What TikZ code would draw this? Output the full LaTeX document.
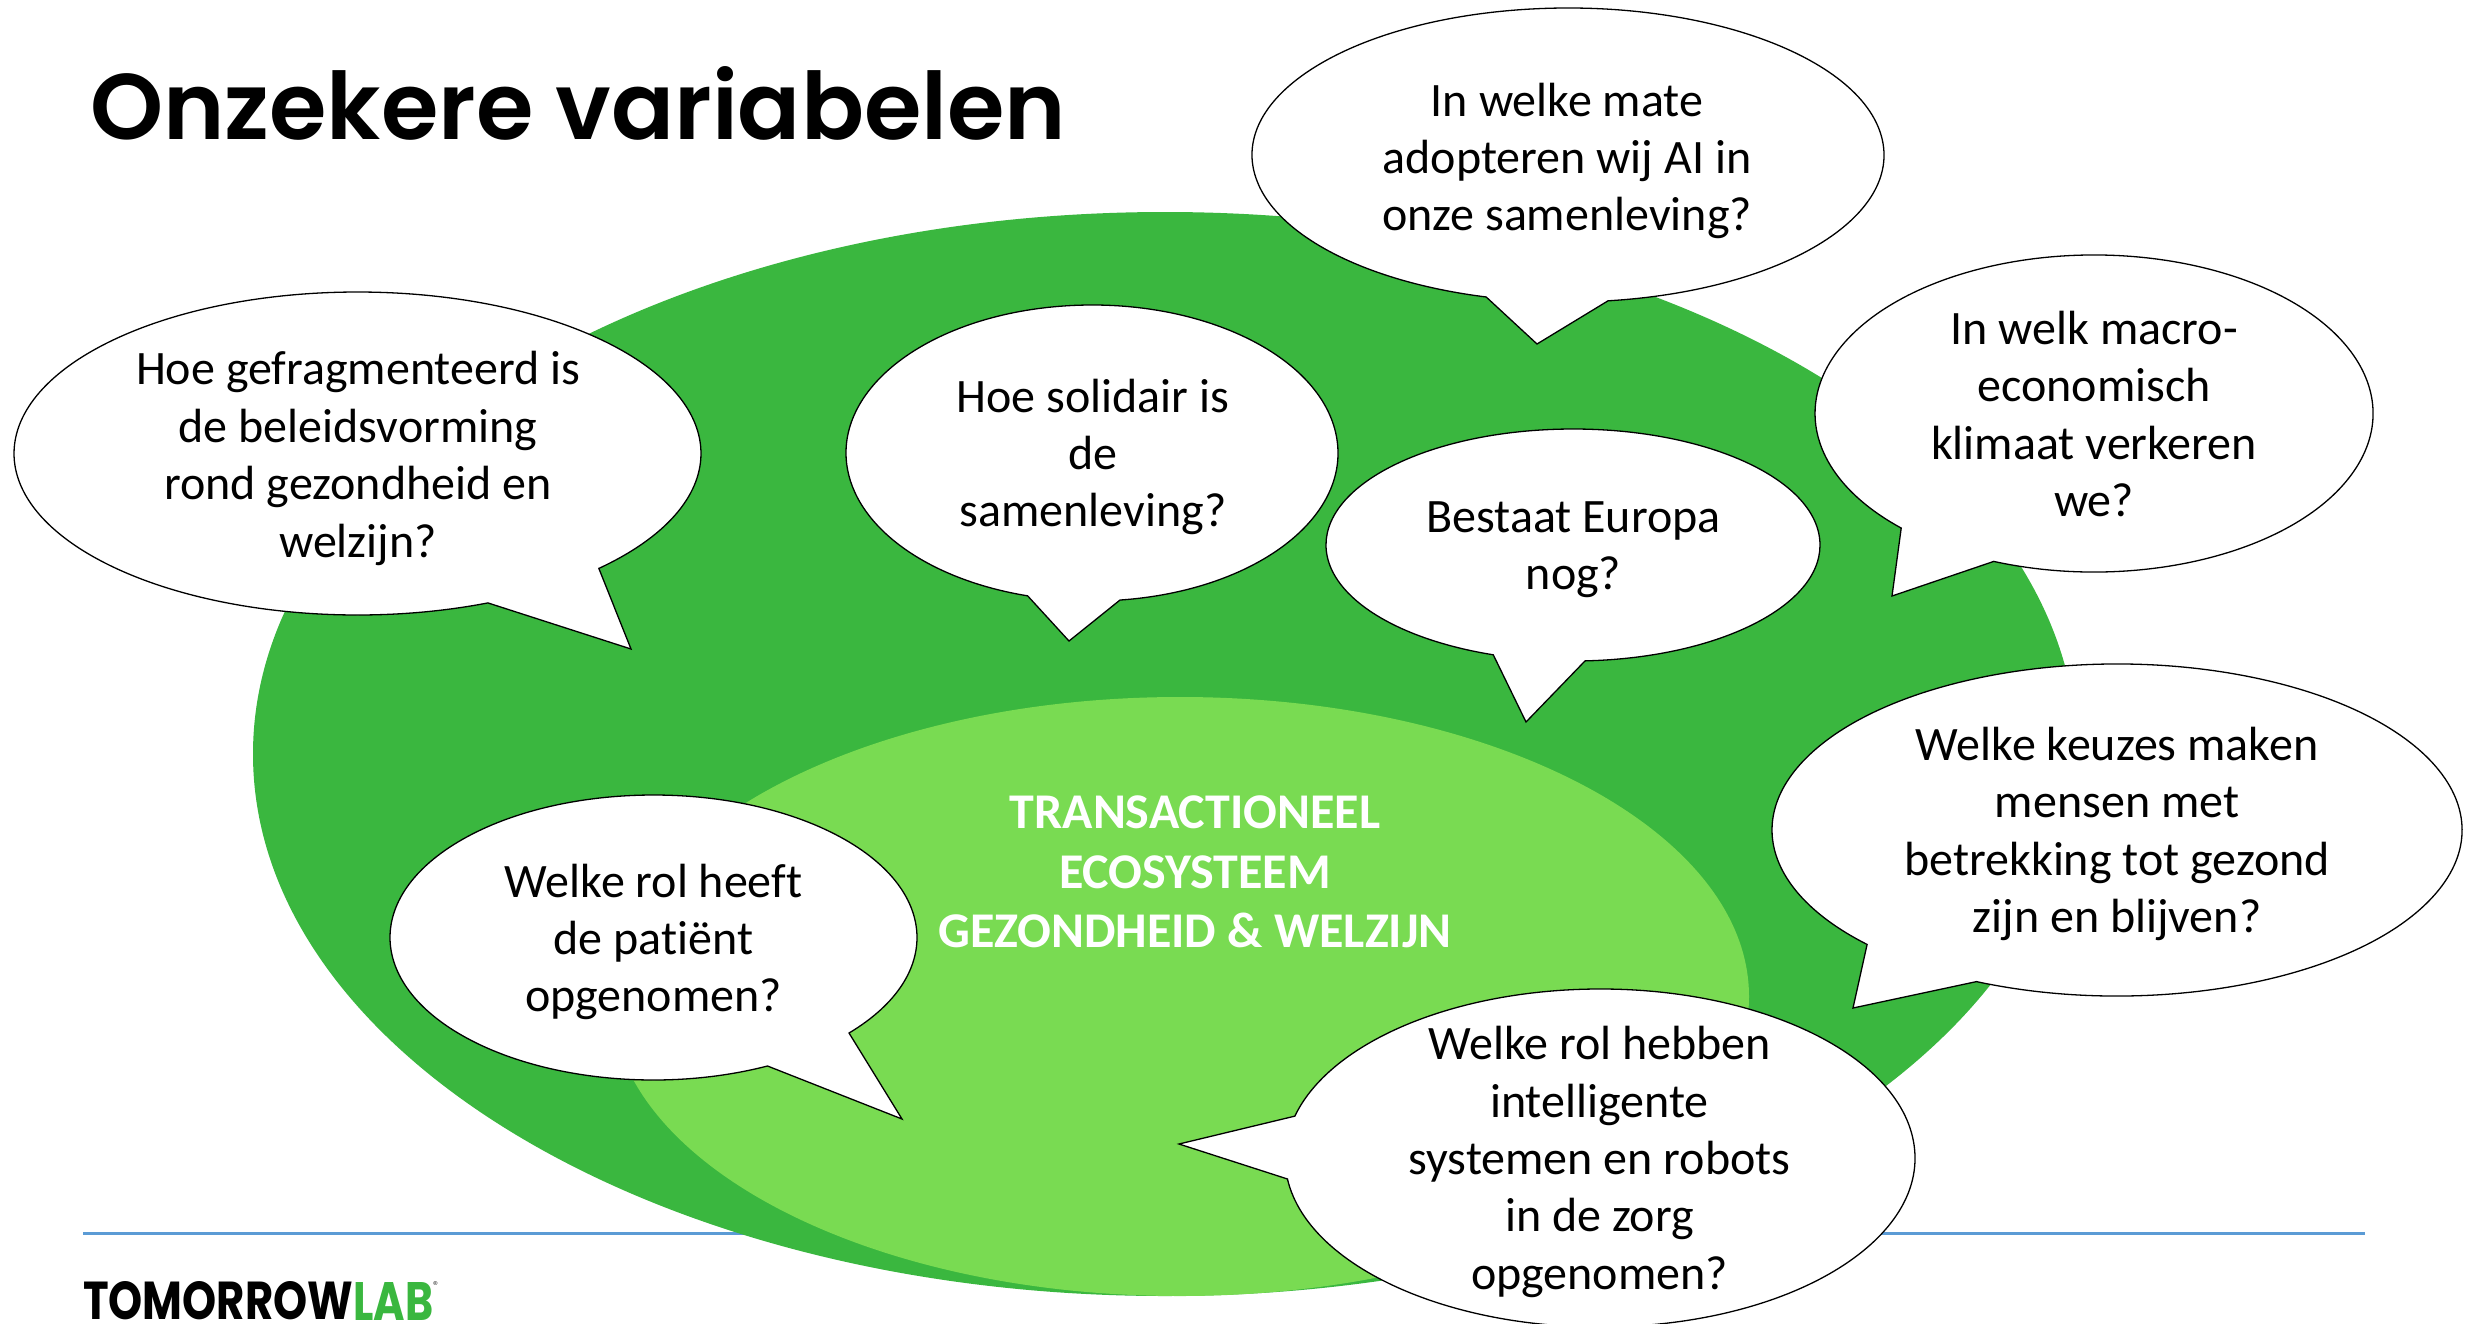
\documentclass[tikz,border=0pt]{standalone}
\usepackage{fontspec}
\usepackage{graphicx}
\setmainfont{Carlito}[Ligatures=NoCommon]
\newfontfamily\titlefont{Poppins}[BoldFont={* SemiBold}]
\newfontfamily\logofont{Poppins}[BoldFont={* Bold}]
\definecolor{biggreen}{HTML}{3AB73F}
\definecolor{lightgreen}{HTML}{79DB52}
\definecolor{rulecolor}{HTML}{5B9BD5}
\tikzset{
  x=1pt,y=1pt,
  blob/.style={fill=white,draw=black,line width=1.3pt,line join=miter},
  bubbletext/.style={align=center,font=\fontsize{48}{57.4}\selectfont,text=black,inner sep=0pt},
  centertext/.style={align=center,font=\fontsize{50}{59.5}\selectfont\bfseries,text=white,inner sep=0pt},
}
% \setblob: centre x,y and radii; \speechblob: arc start x,y; arc end x,y; tail tip x,y (pixel coordinates, y downwards)
\newcommand{\setblob}[4]{\def\cxx{#1}\def\cyy{#2}\def\rxx{#3}\def\ryy{#4}}
\newcommand{\speechblob}[6]{%
  \pgfmathsetmacro{\aS}{atan2(-(#2-\cyy)/\ryy,(#1-\cxx)/\rxx)}%
  \pgfmathsetmacro{\aE}{atan2(-(#4-\cyy)/\ryy,(#3-\cxx)/\rxx)}%
  \pgfmathsetmacro{\aEE}{\aE<\aS ? \aE+360 : \aE}%
  \draw[blob] ({\cxx+\rxx*cos(\aS)},{-\cyy+\ryy*sin(\aS)})
    arc[start angle=\aS,end angle=\aEE,x radius=\rxx,y radius=\ryy]
    -- (#5,-#6) -- cycle;}
\begin{document}
\begin{tikzpicture}
\useasboundingbox (0,0) rectangle (2466,-1323);
\clip (0,0) rectangle (2466,-1323);
\fill[white] (0,0) rectangle (2466,-1323);
\coordinate (ruleL) at (83,-1233);
\coordinate (ruleR) at (2365,-1233);
\draw[rulecolor,line width=3pt] (ruleL) -- (ruleR);
\fill[biggreen] (1165,-754) ellipse[x radius=912,y radius=542];
\fill[lightgreen] (1180,-996.5) ellipse[x radius=569,y radius=299.5];

\node[anchor=base west,inner sep=0pt] (title) at (90,-139.5) {\resizebox{976pt}{73pt}{\titlefont\bfseries\fontsize{100}{110}\selectfont Onzekere variabelen}};

\node[centertext] (core) at (1195,-872) {TRANSACTIONEEL\\ECOSYSTEEM\\GEZONDHEID \& WELZIJN};

\setblob{357.5}{453.5}{343.5}{161.5}\speechblob{598}{568}{488}{603}{631}{649}
\node[bubbletext] (q1) at (358,-458.5) {Hoe gefragmenteerd is\\de beleidsvorming\\rond gezondheid en\\welzijn?};

\setblob{1092}{453}{246}{148}\speechblob{1120}{600}{1028}{595}{1069}{641}
\node[bubbletext] (q2) at (1093,-457) {Hoe solidair is\\de\\samenleving?};

\setblob{1568}{155}{316}{147}\speechblob{1607}{297}{1485}{299}{1537}{344}
\node[bubbletext] (q3) at (1567,-161) {In welke mate\\adopteren wij AI in\\onze samenleving?};

\setblob{2094}{413.5}{279}{158.5}\speechblob{1994}{561}{1903}{527}{1892}{596}
\node[bubbletext] (q4) at (2094,-414) {In welk macro-\\economisch\\klimaat verkeren\\we?};

\setblob{1573}{545}{247}{116}\speechblob{1585}{660}{1496}{651}{1526}{722}
\node[bubbletext] (q5) at (1573.5,-550) {Bestaat Europa\\nog?};

\setblob{2117}{830}{345}{166}\speechblob{1977}{981}{1868}{944}{1853}{1008}
\node[bubbletext] (q6) at (2117,-834) {Welke keuzes maken\\mensen met\\betrekking tot gezond\\zijn en blijven?};

\setblob{1600}{1158}{315}{169}\speechblob{1287}{1179}{1294}{1116}{1179}{1144}
\node[bubbletext] (q7) at (1599.5,-1162) {Welke rol hebben\\intelligente\\systemen en robots\\in de zorg\\opgenomen?};

\setblob{653.5}{937.5}{263.5}{142.5}\speechblob{849}{1033}{767.5}{1066}{902}{1119}
\node[bubbletext] (q8) at (653.5,-942) {Welke rol heeft\\de patiënt\\opgenomen?};

\node[anchor=south west,inner sep=0pt] (logoA) at (83,-1320.5) {\resizebox{270pt}{38pt}{\logofont\bfseries TOMORROW}};
\node[anchor=south west,inner sep=0pt,text=biggreen] (logoB) at (353,-1320.5) {\resizebox{80pt}{38pt}{\logofont\bfseries LAB}};
\node[anchor=north west,inner sep=0pt,font=\fontsize{13}{13}\selectfont,text=black!80] (logoR) at (433,-1281) {\textregistered};
\end{tikzpicture}
\end{document}
